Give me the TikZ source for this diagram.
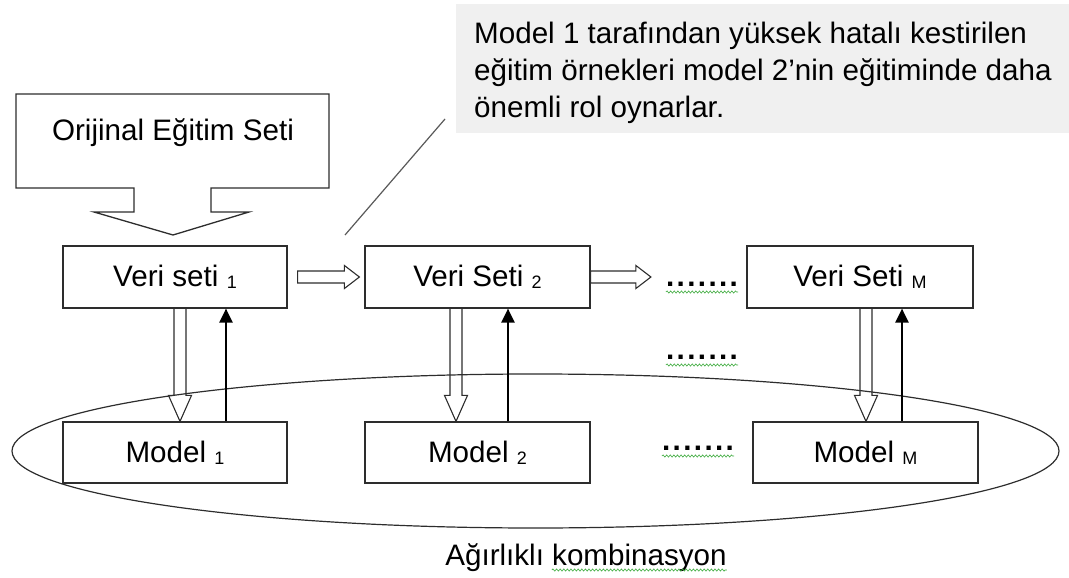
\documentclass[tikz,border=0pt]{standalone}
\usepackage{fontspec}
\setmainfont{Liberation Sans}
\usetikzlibrary{shapes.geometric,arrows.meta,decorations.pathmorphing,calc}

\definecolor{notegray}{RGB}{240,240,240}
\definecolor{inkline}{RGB}{45,45,45}
\definecolor{spellgreen}{RGB}{60,170,60}

% lowered index after a box title
\newcommand{\lowidx}[1]{\raisebox{-2pt}{\fontsize{18}{18}\selectfont #1}}

\begin{document}
\begin{tikzpicture}[x=1pt,y=-1pt,
  txt/.style={font=\fontsize{29.6}{37}\selectfont, text=black},
  stagebox/.style={txt, draw=inkline, line width=1.2pt, inner sep=0pt,
    minimum height=62pt},
  hollow/.style={draw=inkline, line width=1.1pt, line join=miter},
  backarrow/.style={draw=black, line width=2.2pt,
    -{Triangle[width=13pt,length=14pt]}},
  dotrow/.style={font=\fontsize{29.6}{37}\selectfont\bfseries\addfontfeature{LetterSpace=8},
    inner sep=0pt, anchor=base},
  squiggle/.style={draw=spellgreen, line width=0.6pt,
    decorate, decoration={snake, amplitude=1.1pt, segment length=3.6pt}}
]
\useasboundingbox (0,0) rectangle (1069,578);

% ---- explanatory note (top right) ----
\node[fill=notegray, anchor=north west, inner sep=0pt,
      minimum width=613pt, minimum height=129pt] (notebox) at (456,4) {};
\node[txt, anchor=north west, align=left, inner sep=0pt] (note) at (474,21.5)
  {Model 1 tarafından yüksek hatalı kestirilen\\
   eğitim örnekleri model 2’nin eğitiminde daha\\
   önemli rol oynarlar.};
\coordinate (leadA) at (445,119);
\coordinate (leadB) at (345,235);
\draw[draw=black!65, line width=1.2pt] (leadA) -- (leadB);

% ---- original training set: callout with a down arrow ----
\draw[hollow, line width=1.3pt]
  (16,94) -- (329,94) -- (329,188) -- (211,188) -- (211,212) -- (249,212)
  -- (173,235) -- (94,212) -- (134,212) -- (134,188) -- (16,188) -- cycle;
\node[txt, inner sep=0pt] (orig) at (173,133) {Orijinal Eğitim Seti};

% ---- combination ellipse ----
\node[draw=inkline, line width=1.2pt, ellipse, inner sep=0pt,
      minimum width=1047pt, minimum height=154pt] (comb) at (535.5,451) {};
\node[txt, inner sep=0pt, anchor=base] (comblabel) at (586,565)
  {Ağırlıklı kombinasyon};
\draw[squiggle] ($(comblabel.base east)+(-175,5)$) -- ($(comblabel.base east)+(0,5)$);

% ---- data sets ----
\node[stagebox, minimum width=224pt] (v1) at (175,277) {Veri seti \lowidx{1}};
\node[stagebox, minimum width=225pt] (v2) at (477.5,277) {Veri Seti \lowidx{2}};
\node[stagebox, minimum width=226pt] (vM) at (860,277) {Veri Seti \lowidx{M}};

% ---- models ----
\node[stagebox, minimum width=224pt, minimum height=61pt] (m1) at (175,452.5) {Model \lowidx{1}};
\node[stagebox, minimum width=225pt, minimum height=61pt] (m2) at (477.5,452.5) {Model \lowidx{2}};
\node[stagebox, minimum width=225pt, minimum height=61pt] (mM) at (865.5,452.5) {Model \lowidx{M}};

% ---- ellipsis rows ----
\node[dotrow] (d1) at (702,286) {.......};
\node[dotrow] (d2) at (702,359) {.......};
\node[dotrow] (d3) at (698,450) {.......};
\foreach \d in {d1,d2,d3}
  \draw[squiggle] ($(\d.base west)+(0,6)$) -- ($(\d.base east)+(0,6)$);

% ---- hollow arrows between data sets ----
\draw[hollow] let \p1=($(v1.east)+(10,0)$), \p2=($(v2.west)+(-5,0)$) in
  (\x1,\y1+6pt) -- (\x2-15pt,\y1+6pt) -- (\x2-15pt,\y1+11.5pt) -- (\x2,\y1)
  -- (\x2-15pt,\y1-11.5pt) -- (\x2-15pt,\y1-6pt) -- (\x1,\y1-6pt) -- cycle;
\coordinate (dots1) at ($(d1.west)+(-15,-3)$);
\draw[hollow] let \p1=(v2.east), \p2=(dots1) in
  (\x1,\y1+6pt) -- (\x2-15pt,\y1+6pt) -- (\x2-15pt,\y1+11.5pt) -- (\x2,\y1)
  -- (\x2-15pt,\y1-11.5pt) -- (\x2-15pt,\y1-6pt) -- (\x1,\y1-6pt) -- cycle;

% ---- data set -> model (hollow) and model -> data set (solid) ----
\foreach \vx/\ux/\v/\m in {180/226/v1/m1, 456/508/v2/m2, 866/902/vM/mM}{
  \draw[hollow] let \p1=(\v.south), \p2=(\m.north) in
    (\vx pt-6pt,\y1) -- (\vx pt-6pt,\y2+26pt) -- (\vx pt-11.5pt,\y2+26pt)
    -- (\vx pt,\y2) -- (\vx pt+11.5pt,\y2+26pt) -- (\vx pt+6pt,\y2+26pt)
    -- (\vx pt+6pt,\y1);
  \draw[backarrow] let \p1=(\m.north), \p2=(\v.south) in
    (\ux pt,\y1) -- (\ux pt,\y2);
}
\end{tikzpicture}
\end{document}
